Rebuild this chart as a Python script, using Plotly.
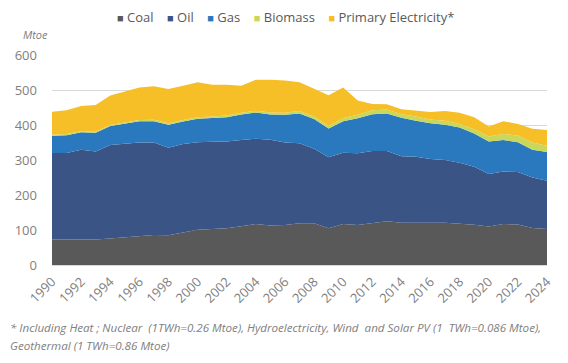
import plotly.graph_objects as go

years = list(range(1990, 2025))
coal = [73, 73, 72, 73, 76, 80, 84, 86, 85, 93, 101, 103, 105, 111, 117, 113, 114, 119, 119, 105,
        117, 114, 119, 125, 121, 122, 121, 121, 119, 115, 110, 117, 116, 106, 103]
oil = [247, 247, 257, 251, 267, 266, 266, 264, 250, 253, 250, 249, 248, 246, 244, 245, 236, 229, 213, 203,
       204, 205, 207, 201, 190, 187, 182, 179, 173, 166, 150, 150, 150, 144, 138]
gas = [49, 51, 50, 54, 54, 57, 61, 61, 66, 64, 67, 68, 69, 73, 75, 72, 79, 85, 85, 82,
       90, 100, 105, 107, 110, 103, 102, 101, 101, 95, 93, 90, 85, 79, 82]
biomass = [3, 3, 3, 3, 3, 3, 3, 4, 4, 4, 4, 4, 5, 5, 5, 6, 6, 7, 7, 7,
           9, 10, 11, 11, 10, 12, 11, 11, 10, 12, 14, 17, 19, 21, 18]
primary_elec = [66, 68, 72, 76, 84, 89, 93, 96, 98, 98, 100, 91, 88, 77, 88, 93, 92, 82, 80, 88,
                87, 41, 18, 15, 14, 16, 21, 28, 32, 34, 29, 37, 33, 39, 45]

series = [
    ("Coal", coal, "#595959"),
    ("Oil", oil, "#3B5486"),
    ("Gas", gas, "#2A79BE"),
    ("Biomass", biomass, "#C9D85A"),
    ("Primary Electricity*", primary_elec, "#F6BE27"),
]

FONT = "Open Sans"
GREY = "#808080"

fig = go.Figure()
for name, vals, col in series:
    fig.add_trace(go.Scatter(x=years, y=vals, stackgroup="one", mode="lines",
                             line=dict(width=0, color=col), fillcolor=col,
                             name=name, showlegend=False))

# page body has an 8px margin; lay out in window coordinates and offset
OFF = 8
W, H = 568 - OFF, 363 - OFF
L, T = 52 - OFF, 55 - OFF
R, B = 568 - 547, 363 - 265
ph = H - T - B
pw = W - L - R

def px(x):
    return (x - OFF - L) / pw

def py(y):
    return (H - B - (y - OFF)) / ph

legend_text = "    ".join(
    f'<span style="color:{col}; font-size:11px">■</span> {name}' for name, _, col in series
)

fig.update_layout(
    width=W, height=H,
    margin=dict(l=L, r=R, t=T, b=B, autoexpand=False),
    paper_bgcolor="white", plot_bgcolor="white",
    font=dict(family=FONT, color=GREY, size=12),
    showlegend=False,
    xaxis=dict(range=[1990, 2024], tickmode="array", tickvals=list(range(1990, 2025, 2)),
               tickangle=-45, showgrid=False, zeroline=False, showline=True,
               linecolor="#d9d9d9", linewidth=1, ticks="", ticklabelstandoff=3,
               automargin=False, tickfont=dict(size=13, color=GREY)),
    yaxis=dict(range=[0, 600], dtick=100, showgrid=True, gridcolor="#d9d9d9", gridwidth=1,
               zeroline=False, showline=False, ticks="", ticklabelstandoff=14,
               automargin=False, tickfont=dict(size=13, color=GREY)),
    annotations=[
        dict(text=legend_text, xref="paper", yref="paper", x=px(285), y=py(17),
             xanchor="center", yanchor="middle", showarrow=False,
             font=dict(size=13, color="#595959", family=FONT)),
        dict(text="<i>Mtoe</i>", xref="paper", yref="paper", x=px(21), y=py(35),
             xanchor="left", yanchor="middle", showarrow=False,
             font=dict(size=11, color=GREY, family=FONT)),
        dict(text="<i>* Including Heat ; Nuclear  (1TWh=0.26 Mtoe), Hydroelectricity, Wind  and Solar PV (1  TWh=0.086 Mtoe),</i>",
             xref="paper", yref="paper", x=px(OFF), y=py(327), xanchor="left", yanchor="middle",
             showarrow=False, font=dict(size=11.6, color=GREY, family=FONT)),
        dict(text="<i>Geothermal (1 TWh=0.86 Mtoe)</i>",
             xref="paper", yref="paper", x=px(OFF), y=py(345), xanchor="left", yanchor="middle",
             showarrow=False, font=dict(size=11.6, color=GREY, family=FONT)),
    ],
)

fig.write_html("out.html")
